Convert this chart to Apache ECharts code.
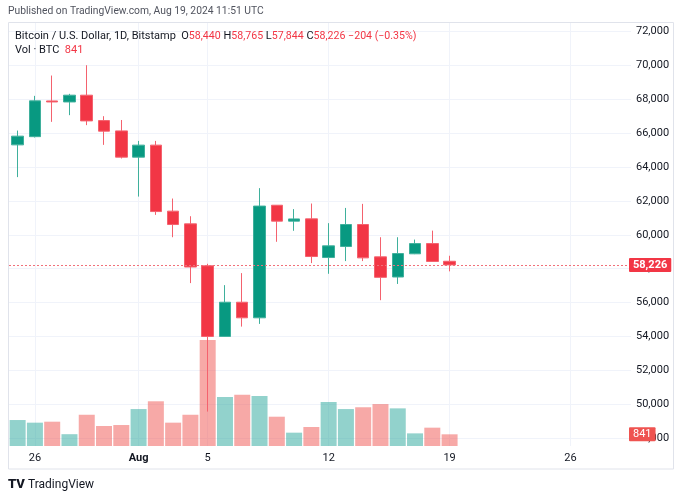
<!DOCTYPE html>
<html>
<head>
<meta charset="utf-8">
<script src="https://cdn.jsdelivr.net/npm/echarts@6/dist/echarts.min.js"></script>
<style>
  html, body { margin: 0; background: #fff; }
  #chart { width: 683px; height: 500px; }
</style>
</head>
<body>
<div id="chart"></div>
<script>
// daily BTC/USD, Bitstamp
const days = [
  'Jul 25', 'Jul 26', 'Jul 27', 'Jul 28', 'Jul 29', 'Jul 30', 'Jul 31',
  'Aug 1', 'Aug 2', 'Aug 3', 'Aug 4', 'Aug 5', 'Aug 6', 'Aug 7', 'Aug 8',
  'Aug 9', 'Aug 10', 'Aug 11', 'Aug 12', 'Aug 13', 'Aug 14', 'Aug 15',
  'Aug 16', 'Aug 17', 'Aug 18', 'Aug 19', 'Aug 20', 'Aug 21', 'Aug 22',
  'Aug 23', 'Aug 24', 'Aug 25', 'Aug 26', 'Aug 27', 'Aug 28', 'Aug 29'
]
const opens = [65315, 65800, 67910, 67850, 68250, 66750, 66140, 64590, 65300, 61400, 60650, 58170, 54000,
  56020, 55100, 61750, 60810, 60945, 58660, 59310, 60610, 58700, 57510, 58880, 59485, 58440]
const closes = [65830, 67915, 67850, 68250, 66730, 66125, 64590, 65300, 61375, 60610, 58100, 54000, 56020,
  55100, 61700, 60810, 60940, 58720, 59350, 60610, 58640, 57490, 58895, 59485, 58430, 58226]
const lows = [63410, 65750, 66675, 67070, 66480, 65315, 64510, 62260, 61180, 59860, 57150, 49560, 53990,
  54580, 54740, 59590, 60240, 58330, 57700, 58450, 58450, 56140, 57100, 58860, 58400, 57844]
const highs = [66160, 68210, 69410, 68330, 70020, 67010, 66785, 65550, 65550, 62145, 61100, 58290, 57030,
  57740, 62760, 61760, 61520, 61850, 60690, 61590, 61830, 59860, 59860, 59720, 60250, 58765]
const volumes = [1870, 1680, 1750, 850, 2250, 1440, 1510, 2660, 3220, 1680, 2250, 7630, 3530,
  3690, 3600, 2110, 960, 1370, 3170, 2660, 2790, 3020, 2710, 910, 1320, 841]

// x axis labels / vertical grid lines
const tickIndex = [1, 7, 11, 18, 25, 32]
const tickText = ['26', 'Aug', '5', '12', '19', '26']

const UP = '#089981'
const DOWN = '#F23645'
const VOL_UP = 'rgba(38,166,154,0.5)'
const VOL_DOWN = 'rgba(239,83,80,0.5)'
const FONT = 'Roboto'

const fmt = v => v.toLocaleString('en-US')

const last = closes.length - 1
const change = closes[last] - closes[last - 1]
const changePct = (change / closes[last - 1] * 100).toFixed(2)

const chart = echarts.init(document.getElementById('chart'), null, { renderer: 'canvas' })

const candleData = opens.map((o, i) => [o, closes[i], lows[i], highs[i]])
const volumeData = volumes.map((v, i) => ({
  value: v,
  itemStyle: { color: closes[i] >= opens[i] ? VOL_UP : VOL_DOWN }
}))

const isTick = i => tickIndex.indexOf(i) >= 0

chart.setOption({
  animation: false,
  textStyle: { fontFamily: FONT },
  title: [
    {
      text: 'Published on TradingView.com, Aug 19, 2024 11:51 UTC',
      left: 8,
      top: 6,
      padding: 0,
      textStyle: { fontSize: 10.3, fontWeight: 'normal', color: '#50535e', fontFamily: FONT }
    },
    {
      text: '{n|Bitcoin / U.S. Dollar, 1D, Bitstamp}  {n|O}{r|' + fmt(opens[last]) + '} {n|H}{r|' + fmt(highs[last]) +
        '} {n|L}{r|' + fmt(lows[last]) + '} {n|C}{r|' + fmt(closes[last]) + '} {r|' +
        (change < 0 ? '\u2212' : '+') + Math.abs(change) + ' (' + (change < 0 ? '\u2212' : '+') + Math.abs(changePct) + '%)}',
      left: 15,
      top: 31,
      padding: 0,
      textStyle: {
        fontSize: 11,
        fontWeight: 'normal',
        rich: {
          n: { fontSize: 11, color: '#131722', fontFamily: FONT },
          r: { fontSize: 10.6, color: DOWN, fontFamily: FONT }
        }
      }
    },
    {
      text: '{n|Vol \u00b7 BTC}  {r|' + volumes[last] + '}',
      left: 15,
      top: 45,
      padding: 0,
      textStyle: {
        fontSize: 11,
        fontWeight: 'normal',
        rich: {
          n: { fontSize: 11, color: '#131722', fontFamily: FONT },
          r: { fontSize: 11, color: DOWN, fontFamily: FONT }
        }
      }
    }
  ],
  grid: [
    { left: 9, right: 52, top: 31.7, height: 406.3 },
    { left: 9, right: 52, top: 23, bottom: 54 }
  ],
  xAxis: [
    {
      type: 'category',
      gridIndex: 0,
      data: days,
      boundaryGap: true,
      show: false
    },
    {
      type: 'category',
      gridIndex: 1,
      data: days,
      boundaryGap: true,
      axisLine: { show: false },
      axisTick: { show: false },
      axisLabel: {
        interval: (i) => isTick(i),
        margin: 7,
        fontSize: 11,
        color: '#131722',
        formatter: (v, i) => {
          const t = tickText[tickIndex.indexOf(i)]
          return t === 'Aug' ? '{b|Aug}' : t
        },
        rich: { b: { fontWeight: 'bold', fontSize: 11, color: '#131722', fontFamily: FONT } }
      },
      splitLine: {
        show: true,
        alignWithLabel: true,
        interval: (i) => isTick(i),
        lineStyle: { color: '#f0f3fa', width: 1 }
      }
    }
  ],
  yAxis: [
    {
      type: 'value',
      gridIndex: 0,
      position: 'right',
      min: 48000,
      max: 72000,
      interval: 2000,
      axisLine: { show: false },
      axisTick: { show: false },
      axisLabel: {
        margin: 5,
        fontSize: 11,
        color: '#131722',
        formatter: v => fmt(v)
      },
      splitLine: { lineStyle: { color: '#f0f3fa', width: 1 } }
    },
    {
      type: 'value',
      gridIndex: 1,
      min: 0,
      max: 30460,
      show: false,
      splitLine: { show: false }
    }
  ],
  graphic: [
    {
      type: 'rect',
      shape: { x: 8.5, y: 22.5, width: 665, height: 446.5 },
      style: { fill: 'none', stroke: '#e0e3eb', lineWidth: 1 },
      silent: true,
      z: 0
    },
    {
      type: 'text',
      left: 8,
      top: 478,
      style: { text: 'TV', fontSize: 13, fontWeight: 900, fill: '#131722', fontFamily: FONT }
    },
    {
      type: 'text',
      left: 28,
      top: 479,
      style: { text: 'TradingView', fontSize: 12, fill: '#131722', fontFamily: FONT }
    }
  ],
  series: [
    {
      name: 'Vol',
      type: 'bar',
      xAxisIndex: 1,
      yAxisIndex: 1,
      data: volumeData,
      barWidth: 16,
      z: 1,
      markLine: {
        silent: true,
        symbol: 'none',
        z: 10,
        data: [{ yAxis: volumes[last] }],
        lineStyle: { color: 'rgba(0,0,0,0)', type: 'solid' },
        label: {
          show: true,
          position: 'end',
          distance: -2,
          formatter: String(volumes[last]),
          backgroundColor: '#ef5350',
          color: '#fff',
          fontSize: 11,
          padding: [2, 4, 1, 4],
          borderRadius: 1
        }
      }
    },
    {
      name: 'BTCUSD',
      type: 'candlestick',
      xAxisIndex: 0,
      yAxisIndex: 0,
      data: candleData,
      barWidth: 12,
      z: 3,
      itemStyle: {
        color: UP,
        color0: DOWN,
        borderColor: '#3fb09c',
        borderColor0: '#f4626e',
        borderWidth: 1
      },
      markLine: {
        silent: true,
        symbol: 'none',
        data: [{ yAxis: closes[last] }],
        lineStyle: { type: [2, 2], color: '#f0707a', width: 1 },
        label: {
          position: 'end',
          distance: -2,
          formatter: fmt(closes[last]),
          backgroundColor: DOWN,
          color: '#fff',
          fontSize: 11,
          fontWeight: 'bold',
          padding: [2, 4, 1, 4],
          borderRadius: 1
        }
      }
    }
  ]
})
</script>
</body>
</html>
